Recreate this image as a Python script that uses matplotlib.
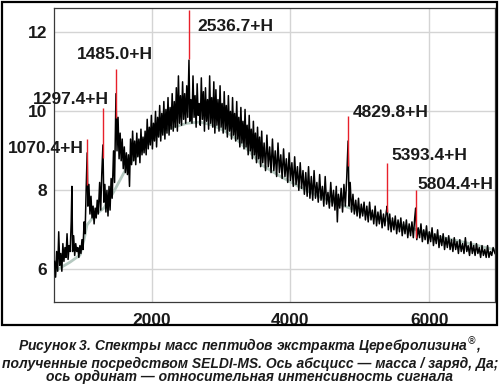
import matplotlib
matplotlib.use('Agg')
import matplotlib.pyplot as plt
from matplotlib.patches import Rectangle

plt.rcParams['font.family'] = ['Liberation Sans', 'DejaVu Sans']

# spectrum (mass / charge, Da ; relative intensity)
mass = [600, 615, 630, 645, 660, 675, 690, 705, 720, 735, 750, 765, 780, 795, 810, 825, 840, 850, 860, 875,
        890, 905, 920, 935, 950, 965, 980, 995, 1010, 1025, 1040, 1055, 1070, 1080, 1095, 1110, 1125, 1140, 1155, 1170,
        1185, 1200, 1215, 1230, 1250, 1265, 1280, 1297, 1310, 1325, 1340, 1355, 1370, 1385, 1400, 1415, 1430, 1450, 1465, 1485,
        1500, 1515, 1530, 1545, 1560, 1575, 1590, 1605, 1620, 1635, 1650, 1665, 1680, 1695, 1710, 1725, 1740, 1755, 1770, 1785,
        1800, 1815, 1830, 1845, 1860, 1875, 1890, 1905, 1920, 1935, 1950, 1965, 1980, 1995, 2010, 2025, 2040, 2055, 2070, 2085,
        2100, 2115, 2130, 2145, 2160, 2175, 2190, 2205, 2220, 2235, 2250, 2265, 2280, 2295, 2310, 2325, 2340, 2355, 2370, 2385,
        2400, 2415, 2430, 2445, 2460, 2475, 2490, 2505, 2520, 2537, 2550, 2565, 2580, 2595, 2610, 2625, 2640, 2655, 2670, 2685,
        2700, 2715, 2730, 2745, 2760, 2775, 2790, 2805, 2820, 2835, 2850, 2865, 2880, 2895, 2910, 2925, 2940, 2955, 2970, 2985,
        3000, 3015, 3030, 3045, 3060, 3075, 3090, 3105, 3120, 3135, 3150, 3165, 3180, 3195, 3210, 3225, 3240, 3255, 3270, 3285,
        3300, 3315, 3330, 3345, 3360, 3375, 3390, 3405, 3420, 3435, 3450, 3465, 3480, 3495, 3510, 3525, 3540, 3555, 3570, 3585,
        3600, 3620, 3640, 3660, 3680, 3700, 3720, 3740, 3760, 3780, 3800, 3820, 3840, 3860, 3880, 3900, 3920, 3940, 3960, 3980,
        4000, 4020, 4040, 4060, 4080, 4100, 4120, 4140, 4160, 4180, 4200, 4220, 4240, 4260, 4280, 4300, 4320, 4340, 4360, 4380,
        4400, 4420, 4440, 4460, 4480, 4500, 4520, 4540, 4560, 4580, 4600, 4620, 4640, 4660, 4675, 4690, 4710, 4730, 4750, 4770,
        4790, 4810, 4830, 4845, 4860, 4880, 4900, 4920, 4940, 4960, 4980, 5000, 5020, 5040, 5060, 5080, 5100, 5120, 5140, 5160,
        5180, 5200, 5220, 5240, 5260, 5280, 5300, 5320, 5340, 5360, 5380, 5393, 5410, 5430, 5450, 5470, 5490, 5510, 5530, 5550,
        5570, 5590, 5610, 5630, 5650, 5670, 5690, 5710, 5730, 5750, 5770, 5790, 5804, 5820, 5840, 5860, 5880, 5900, 5920, 5940,
        5960, 5980, 6000, 6020, 6040, 6060, 6080, 6100, 6120, 6140, 6160, 6180, 6200, 6220, 6240, 6260, 6280, 6300, 6320, 6340,
        6360, 6380, 6400, 6420, 6440, 6460, 6480, 6500, 6520, 6540, 6560, 6580, 6600, 6620, 6640, 6660, 6680, 6700, 6720, 6740,
        6760, 6780, 6800, 6820, 6840, 6860, 6880, 6900, 6920, 6947]
intensity = [6.2, 5.8, 6.45, 5.95, 6.95, 6.1, 6.4, 5.95, 6.65, 6.2, 6.55, 6.3, 6.9, 6.25, 6.6, 6.45, 7.2, 8.1, 6.45, 6.85,
             6.35, 6.65, 6.45, 6.55, 6.3, 6.6, 6.4, 6.75, 6.5, 7.2, 6.9, 8.0, 8.95, 7.6, 8.15, 7.4, 7.85, 7.3, 7.6, 7.15,
             7.55, 7.3, 7.75, 7.4, 8.2, 7.5, 8.4, 9.15, 7.7, 8.15, 7.45, 8.0, 7.35, 8.1, 7.5, 8.3, 7.8, 9.0, 8.2, 10.45,
             9.0, 9.85, 8.8, 9.45, 8.75, 9.3, 8.55, 9.1, 8.45, 8.95, 8.4, 8.9, 8.1, 9.3, 8.65, 9.5, 8.75, 9.25, 8.65, 9.45,
             8.85, 9.3, 8.7, 9.55, 8.9, 9.35, 8.95, 9.5, 8.9, 9.8, 9.05, 9.6, 9.15, 9.9, 9.05, 9.7, 9.25, 10.0, 9.1, 9.85,
             9.35, 10.15, 9.25, 9.95, 9.4, 10.25, 9.3, 10.05, 9.45, 10.35, 9.4, 10.1, 9.55, 10.45, 9.5, 10.25, 9.6, 10.6, 9.5, 10.9,
             9.7, 10.4, 9.65, 10.75, 9.8, 10.45, 9.7, 10.65, 9.85, 11.3,
             9.75, 10.3, 9.7, 10.9, 9.85, 10.4, 9.6, 10.7, 9.9, 10.2,
             9.65, 10.85, 9.8, 10.5, 9.5, 10.6, 9.75, 10.3, 9.55, 10.9, 9.7, 10.35, 9.6, 10.75, 9.45, 10.55, 9.65, 10.3, 9.5, 10.65,
             9.6, 10.2, 9.45, 10.5, 9.55, 10.15, 9.35, 10.4, 9.5, 10.0, 9.3, 10.35, 9.4, 9.95, 9.25, 10.25, 9.3, 9.85, 9.1, 10.1,
             9.2, 9.75, 9.05, 10.05, 9.1, 9.65, 8.9, 9.9, 9.0, 9.55, 8.8, 9.75, 8.9, 9.45, 8.7, 9.6, 8.8, 9.35, 8.6, 9.5,
             8.7, 9.2, 8.5, 9.4, 8.6, 9.1, 8.45, 9.3, 8.5, 9.0, 8.35, 9.2, 8.45, 8.9, 8.3, 9.05, 8.35, 8.8, 8.2, 8.95,
             8.25, 8.7, 8.1, 8.85, 8.15, 8.6, 8.0, 8.7, 8.05, 8.5, 7.9, 8.45, 7.85, 8.6, 7.8, 8.35, 7.75, 8.5, 7.8, 8.2,
             7.7, 8.4, 7.75, 8.1, 7.6, 8.35, 7.65, 7.95, 7.55, 8.2, 7.6, 8.0, 7.5, 8.1, 7.2, 7.9, 7.55, 8.05, 7.45, 8.15,
             7.6, 8.3, 9.25, 7.6, 8.2, 7.45, 7.9, 7.4, 7.75, 7.35, 7.8, 7.3, 7.65, 7.35, 7.7, 7.25, 7.6, 7.2, 7.7, 7.25,
             7.5, 7.15, 7.6, 7.1, 7.45, 7.15, 7.5, 7.05, 7.4, 7.1, 7.45, 7.6, 7.0, 7.4, 6.95, 7.3, 7.0, 7.35, 6.9, 7.25,
             6.95, 7.3, 6.85, 7.2, 6.9, 7.25, 6.8, 7.15, 6.85, 7.2, 6.8, 7.3, 7.55, 6.75, 7.05, 6.8, 7.15, 6.7, 7.0, 6.75,
             7.1, 6.65, 6.95, 6.7, 7.05, 6.6, 6.9, 6.65, 7.0, 6.55, 6.85, 6.6, 6.9, 6.5, 6.8, 6.55, 6.85, 6.5, 6.75, 6.45,
             6.8, 6.5, 6.7, 6.4, 6.75, 6.45, 6.65, 6.4, 6.8, 6.45, 6.6, 6.35, 6.7, 6.4, 6.6, 6.35, 6.65, 6.4, 6.55, 6.3,
             6.6, 6.35, 6.5, 6.3, 6.6, 6.3, 6.45, 6.35, 6.55, 6.4]

# smooth baseline (grey curve)
base_mass = [592, 823, 967, 1024, 1067, 1183, 1312, 1442, 1543, 1644, 1831, 1975, 2191, 2508, 2696, 2883, 3056, 3200,
             3387, 3589, 3820, 4137, 4425, 4857, 5290, 5722, 6154, 6587, 6947]
base_int = [5.94, 6.18, 6.36, 6.74, 7.12, 7.38, 7.55, 7.93, 8.26, 8.59, 8.97, 9.27, 9.53, 9.70, 9.73, 9.65, 9.5, 9.33,
            9.02, 8.64, 8.39, 8.08, 7.83, 7.55, 7.30, 7.05, 6.82, 6.65, 6.49]

# marked peaks: red line top / bottom
peak_mass = [1070.4, 1297.4, 1485.0, 2536.7, 4829.8, 5393.4, 5804.4]
peak_top = [9.30, 10.08, 11.07, 12.56, 9.88, 8.69, 8.01]
peak_bottom = [8.13, 8.82, 9.83, 11.32, 8.62, 7.45, 6.79]
peak_labels = ['1070.4+H', '1297.4+H', '1485.0+H', '2536.7+H', '4829.8+H', '5393.4+H', '5804.4+H']
label_x = [1024, 1385, 1465, 2653, 4901, 5448, 5823]
label_y = [9.07, 10.31, 11.45, 12.16, 9.96, 8.89, 8.16]
label_ha = ['right', 'right', 'center', 'left', 'left', 'left', 'left']

xticks = [2000, 4000, 6000]
yticks = [6, 8, 10, 12]

caption = ('Рисунок 3. Спектры масс пептидов экстракта Церебролизина$^{®}$,\n'
           'полученные посредством SELDI-MS. Ось абсцисс — масса / заряд, Да;\n'
           'ось ординат — относительная интенсивность сигнала')

fig = plt.figure(figsize=(5.0, 3.84), dpi=100)
ax = fig.add_axes([0.108, 0.2135, 0.882, 0.7656])

ax.plot(base_mass, base_int, color='#b5c8c0', lw=2.0, zorder=2)
ax.plot(mass, intensity, color='black', lw=1.1, zorder=3)
ax.vlines(peak_mass, peak_bottom, peak_top, color='#e8202a', lw=1.0, zorder=4)

for lx, ly, txt, ha in zip(label_x, label_y, peak_labels, label_ha):
    ax.text(lx, ly, txt, ha=ha, va='center', fontsize=12.5, fontweight='bold',
            color='#1a1a1a', clip_on=False, zorder=5)

ax.set_xlim(592, 6947)
ax.set_ylim(5.17, 12.62)
ax.set_xticks(xticks)
ax.set_yticks(yticks)
ax.grid(True, color='#d4d4d4', lw=1.0)
ax.set_axisbelow(True)
ax.tick_params(length=0, labelsize=12.5, colors='#1a1a1a')
ax.tick_params(axis='x', pad=8)
ax.tick_params(axis='y', pad=5)
for lab in ax.get_xticklabels() + ax.get_yticklabels():
    lab.set_fontweight('bold')
for sp in ax.spines.values():
    sp.set_color('#3a3a3a')
    sp.set_linewidth(0.9)

# outer frame round the chart
fig.patches.append(Rectangle((0.003, 0.153), 0.991, 0.843, transform=fig.transFigure,
                             fill=False, edgecolor='black', lw=1.6))

fig.text(0.5, 0.062, caption, ha='center', va='center', fontsize=10,
         fontweight='bold', fontstyle='italic', linespacing=0.95, color='#1a1a1a')

fig.savefig('out.png', dpi=100)
